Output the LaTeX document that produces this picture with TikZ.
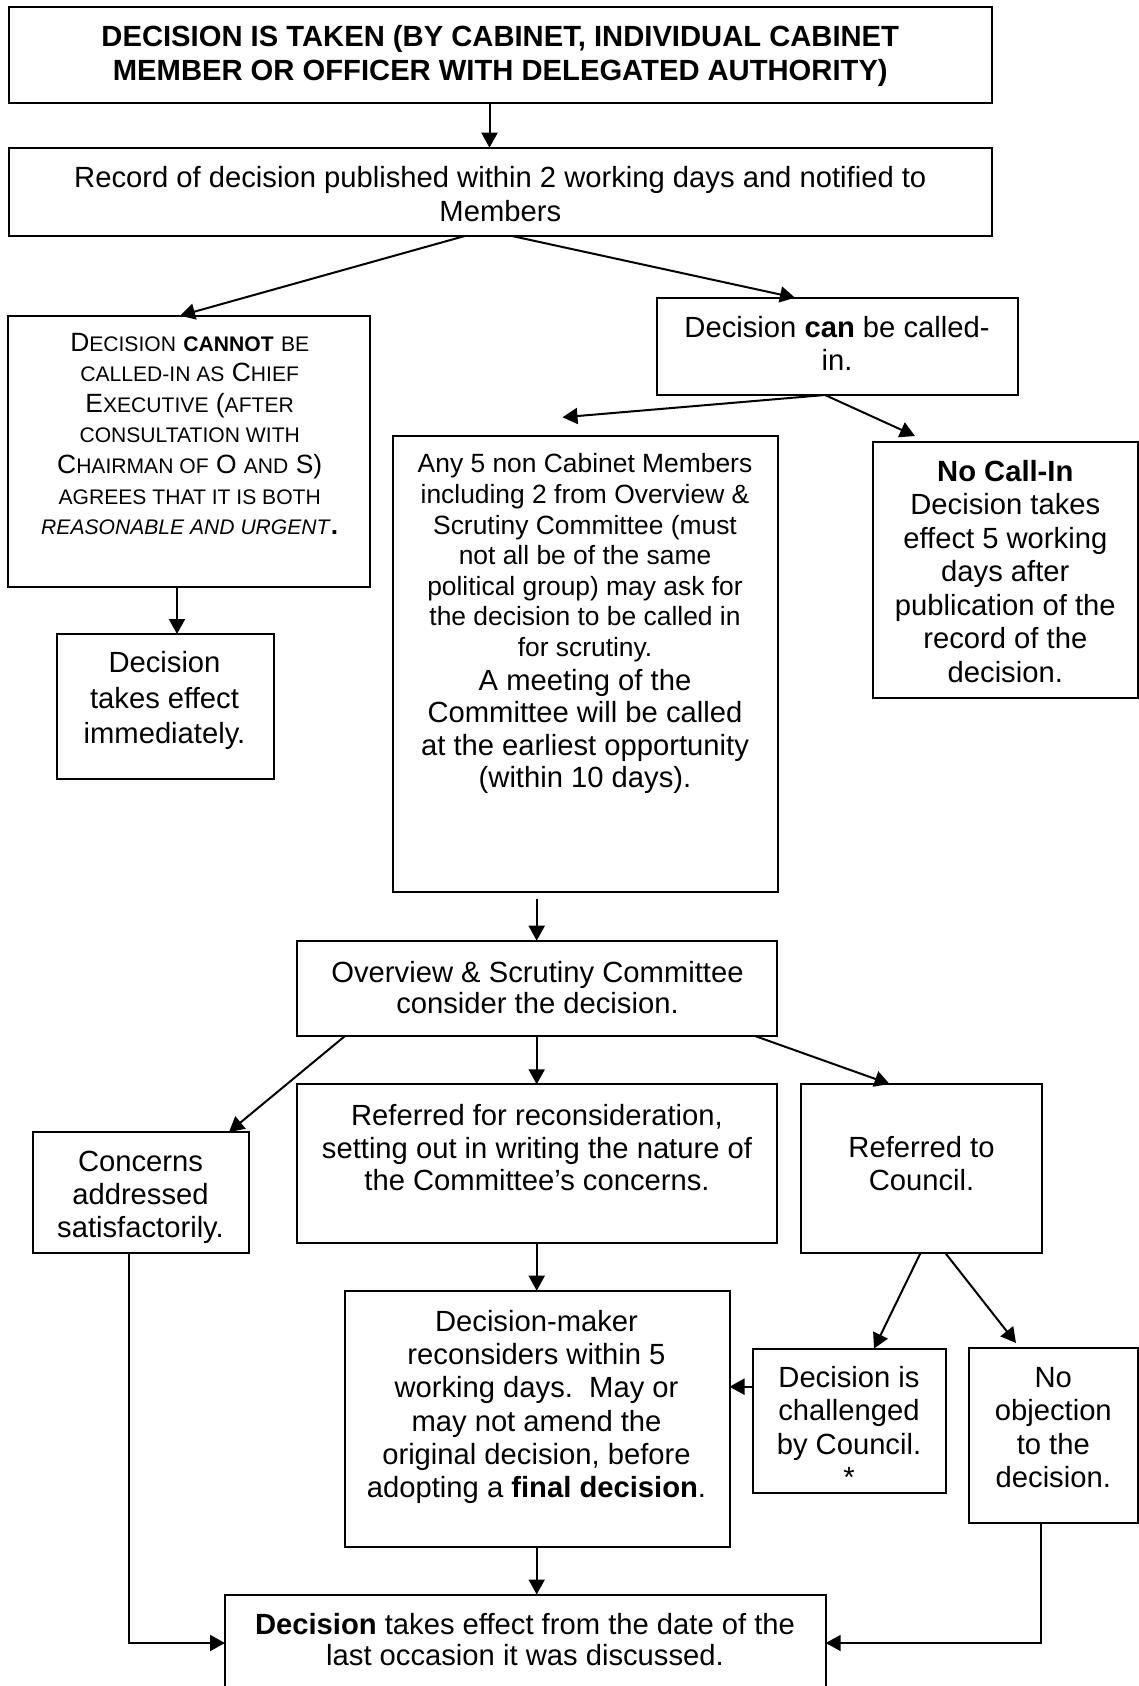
\documentclass[tikz,border=0pt]{standalone}
\usepackage{fontspec}
\setmainfont{Liberation Sans}
\usetikzlibrary{arrows.meta}
% type sizes: main text and the smaller text of two boxes
\newcommand\fmain[1]{\fontsize{29.2pt}{#1pt}\selectfont}
\newcommand\fsmall[1]{\fontsize{26.4pt}{#1pt}\selectfont}
% imitation small capitals
\newcommand\smc[1]{{\fontsize{21.1pt}{30.6pt}\selectfont #1}}
% fixes the height of the first line of each text block
\newcommand\tstrut{\rule{0pt}{0.9em}}

\begin{document}
\begin{tikzpicture}[x=1pt,y=-1pt,
  box/.style={draw, line width=2pt, inner sep=0pt, outer sep=0pt, rectangle},
  txt/.style={inner sep=0pt, anchor=north, align=center},
  conn/.style={line width=2pt, -{Triangle[length=15pt,width=16pt]}},
]
\useasboundingbox (0,0) rectangle (1139,1686);

% ---------- boxes ----------
\node[box, minimum width=983.3, minimum height=95.4] (b1) at (500.35,55) {};
\node[box, minimum width=983.3, minimum height=88.3] (b2) at (500.35,191.85) {};
\node[box, minimum width=361.1, minimum height=270.8] (cannot) at (188.95,451.1) {};
\node[box, minimum width=360.8, minimum height=97.3] (can) at (837.1,346.35) {};
\node[box, minimum width=384.8, minimum height=455.5] (any5) at (585.1,663.75) {};
\node[box, minimum width=265, minimum height=256] (nocall) at (1005.2,570.3) {};
\node[box, minimum width=216.8, minimum height=145] (immed) at (165.1,706.5) {};
\node[box, minimum width=480.6, minimum height=95.3] (overview) at (537,988.35) {};
\node[box, minimum width=216.5, minimum height=120.5] (concerns) at (140.75,1192.25) {};
\node[box, minimum width=480.8, minimum height=158.3] (recons) at (536.9,1163.45) {};
\node[box, minimum width=241, minimum height=168.6] (council) at (921,1168.3) {};
\node[box, minimum width=384.5, minimum height=256] (dm) at (537.25,1418.7) {};
\node[box, minimum width=193, minimum height=144.2] (chall) at (849.2,1420.6) {};
\node[box, minimum width=168.7, minimum height=175] (noobj) at (1053.35,1435.8) {};
\node[box, minimum width=600.7, minimum height=105.5] (final) at (525.35,1647.25) {};

% ---------- texts ----------
\node[txt, font=\bfseries\fmain{34.3}] (b1-t) at (500.3,19.9)
  {\tstrut DECISION IS TAKEN (BY CABINET, INDIVIDUAL CABINET\\MEMBER OR OFFICER WITH DELEGATED AUTHORITY)};
\node[txt, font=\fmain{34}] (b2-t) at (500.3,160.9)
  {\tstrut Record of decision published within 2 working days and notified to\\Members};
\node[txt, font=\fsmall{30.6}] (cannot-t) at (189.7,327.1)
  {\tstrut D\smc{ECISION} \textbf{\smc{CANNOT}} \smc{BE}\\
   \smc{CALLED-IN AS} C\smc{HIEF}\\
   E\smc{XECUTIVE} (\smc{AFTER}\\
   \smc{CONSULTATION WITH}\\
   C\smc{HAIRMAN OF} O \smc{AND} S)\\
   \smc{AGREES THAT IT IS BOTH}\\
   \textit{\smc{REASONABLE AND URGENT}}\textbf{.}};
\node[txt, font=\fmain{33.4}] (can-t) at (837,311)
  {\tstrut Decision \textbf{can} be called-\\in.};
\node[txt, font=\fsmall{30.6}] (any5-t) at (585,449)
  {\tstrut Any 5 non Cabinet Members\\including 2 from Overview \&\\Scrutiny Committee (must\\not all be of the same\\political group) may ask for\\the decision to be called in\\for scrutiny.};
\node[txt, font=\fmain{32.3}] (any5-m) at (585,664.2)
  {\tstrut A meeting of the\\Committee will be called\\at the earliest opportunity\\(within 10 days).};
\node[txt, font=\fmain{33.5}] (nocall-t) at (1005.3,455)
  {\tstrut\textbf{No Call-In}\\Decision takes\\effect 5 working\\days after\\publication of the\\record of the\\decision.};
\node[txt, font=\fmain{35.6}] (immed-t) at (164.5,646)
  {\tstrut Decision\\takes effect\\immediately.};
\node[txt, font=\fmain{31}] (overview-t) at (537.5,956)
  {\tstrut Overview \& Scrutiny Committee\\consider the decision.};
\node[txt, font=\fmain{33}] (concerns-t) at (140.5,1145.2)
  {\tstrut Concerns\\addressed\\satisfactorily.};
\node[txt, font=\fmain{32.5}] (recons-t) at (537,1099.2)
  {\tstrut Referred for reconsideration,\\setting out in writing the nature of\\the Committee’s concerns.};
\node[txt, font=\fmain{33.3}] (council-t) at (921.5,1131)
  {\tstrut Referred to\\Council.};
\node[txt, font=\fmain{33.2}] (dm-t) at (536.5,1305)
  {\tstrut Decision-maker\\reconsiders within 5\\working days.\ \ May or\\may not amend the\\original decision, before\\adopting a \textbf{final decision}.};
\node[txt, font=\fmain{33.3}] (chall-t) at (849,1361)
  {\tstrut Decision is\\challenged\\by Council.\\*};
\node[txt, font=\fmain{33.3}] (noobj-t) at (1053.3,1361)
  {\tstrut No\\objection\\to the\\decision.};
\node[txt, font=\fmain{31.7}] (final-t) at (525,1607.5)
  {\tstrut\textbf{Decision} takes effect from the date of the\\last occasion it was discussed.};

% ---------- connectors ----------
\coordinate (any5in) at (562.5,417.3);
\coordinate (nocallin) at (915,436);
\coordinate (noobjin) at (1016,1343);

\draw[conn] (489.5,0 |- b1.south) -- (489.5,0 |- b2.north);
\draw[conn] (464.8,0 |- b2.south) -- (180,0 |- cannot.north);
\draw[conn] (512,0 |- b2.south) -- (795,0 |- can.north);
\draw[conn] (825,0 |- can.south) -- (any5in);
\draw[conn] (825,0 |- can.south) -- (nocallin);
\draw[conn] (177,0 |- cannot.south) -- (177,0 |- immed.north);
\draw[conn, shorten <=7pt] (536.7,0 |- any5.south) -- (536.7,0 |- overview.north);
\draw[conn] (345,0 |- overview.south) -- (229,0 |- concerns.north);
\draw[conn] (536.7,0 |- overview.south) -- (536.7,0 |- recons.north);
\draw[conn] (755,0 |- overview.south) -- (889.6,0 |- council.north);
\draw[conn] (536.7,0 |- recons.south) -- (536.7,0 |- dm.north);
\draw[conn] (920.7,0 |- council.south) -- (874,0 |- chall.north);
\draw[conn] (945,0 |- council.south) -- (noobjin);
\draw[conn] (chall.west |- 0,1386.7) -- (dm.east |- 0,1386.7);
\draw[conn] (536.7,0 |- dm.south) -- (536.7,0 |- final.north);
\draw[conn] (129,0 |- concerns.south) |- (final.west |- 0,1643);
\draw[conn] (1041,0 |- noobj.south) |- (final.east |- 0,1643);
\end{tikzpicture}
\end{document}
